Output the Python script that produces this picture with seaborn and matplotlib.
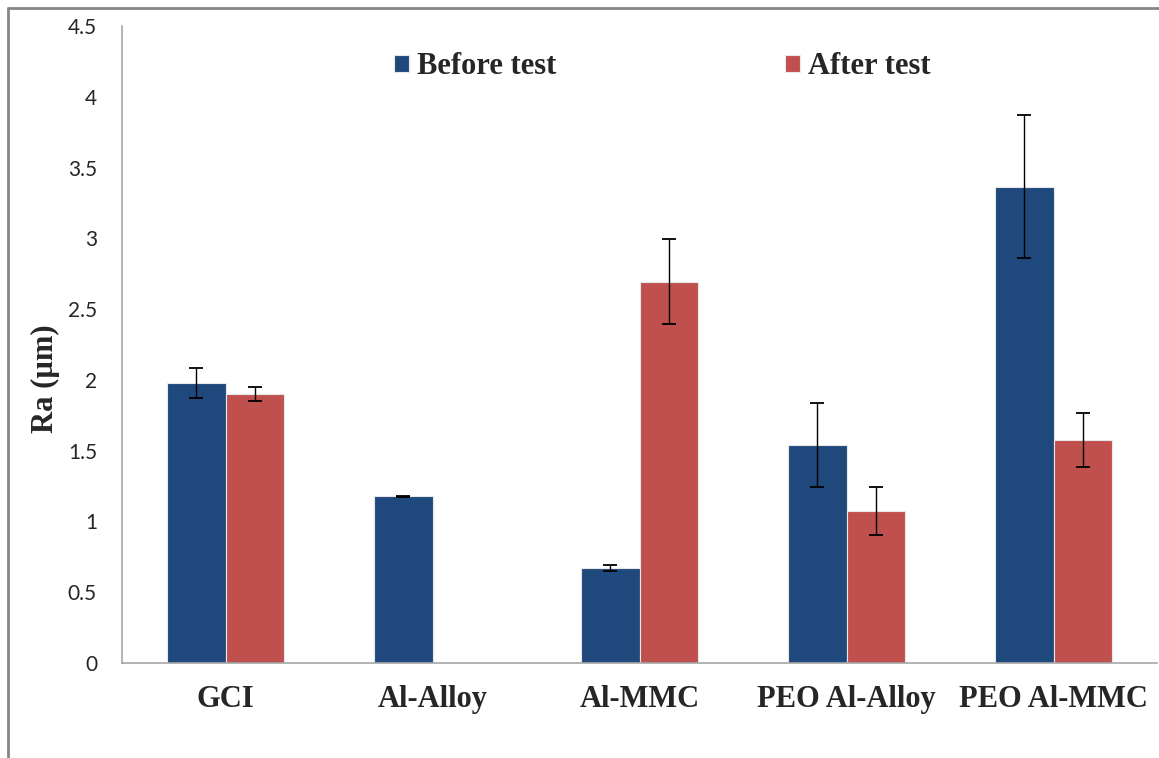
import matplotlib
matplotlib.use("Agg")
import matplotlib.pyplot as plt
import seaborn as sns
import pandas as pd
import numpy as np
from matplotlib.lines import Line2D

categories = ["GCI", "Al-Alloy", "Al-MMC", "PEO Al-Alloy", "PEO Al-MMC"]
series_names = ["Before test", "After test"]
before_vals = [1.98, 1.177, 0.671, 1.54, 3.366]
after_vals = [1.90, 0.0, 2.695, 1.071, 1.575]
before_err = [0.105, 0.005, 0.02, 0.30, 0.506]
after_err = [0.05, np.nan, 0.30, 0.17, 0.19]
yticks = [0, 0.5, 1, 1.5, 2, 2.5, 3, 3.5, 4, 4.5]
ytick_labels = ["0", "0.5", "1", "1.5", "2", "2.5", "3", "3.5", "4", "4.5"]
colors = ["#1F497D", "#C0504D"]

df = pd.DataFrame({
    "Material": categories * 2,
    "Series": [series_names[0]] * len(categories) + [series_names[1]] * len(categories),
    "Ra": before_vals + after_vals,
})
errs = [before_err, after_err]

sns.set_style("white")
W, H = 1159, 758
fig = plt.figure(figsize=(W / 100, H / 100), dpi=100)
ax = fig.add_axes([122 / W, 1 - 663 / H, (1157 - 122) / W, (663 - 26) / H])

sns.barplot(data=df, x="Material", y="Ra", hue="Series", order=categories,
            hue_order=series_names, palette=colors, saturation=1, width=0.568,
            errorbar=None, ax=ax, linewidth=0.8, edgecolor="#e8e8e8")

for cont, e in zip(ax.containers, errs):
    for patch, err in zip(cont.patches, e):
        if np.isnan(err):
            continue
        xc = patch.get_x() + patch.get_width() / 2
        ax.errorbar(xc, patch.get_height(), yerr=err, fmt="none", ecolor="black",
                    elinewidth=1.0, capsize=4.7, capthick=1.3, zorder=5)

ax.set_ylim(0, 4.5)
ax.set_xlim(-0.5, 4.5)
ax.set_yticks(yticks)
ax.set_yticklabels(ytick_labels, fontfamily="Lato", fontsize=15)
ax.tick_params(axis="y", length=0, pad=18)
ax.tick_params(axis="x", length=0, pad=16)
for lab in ax.get_xticklabels():
    lab.set_fontfamily("Liberation Serif")
    lab.set_fontweight("bold")
    lab.set_fontsize(22)
ax.set_xlabel("")
ax.set_ylabel("Ra (µm)", fontfamily="Liberation Serif", fontweight="bold", fontsize=22)
ax.yaxis.set_label_coords(-0.06, 0.446)

for s in ["top", "right"]:
    ax.spines[s].set_visible(False)
for s in ["left", "bottom"]:
    ax.spines[s].set_color("#a6a6a6")
    ax.spines[s].set_linewidth(1.2)

leg = ax.legend(loc="upper center", bbox_to_anchor=(0.522, 1.0), ncol=2, frameon=False,
                prop={"family": "Liberation Serif", "weight": "bold", "size": 22},
                handlelength=0.49, handleheight=0.49, handletextpad=0.26,
                columnspacing=7.5, borderaxespad=0.46)

# outer chart frame (partially visible)
fig.add_artist(Line2D([8 / W, 8 / W], [1 - 8 / H, 0], transform=fig.transFigure,
                      color="#858585", linewidth=2))
fig.add_artist(Line2D([8 / W, 1], [1 - 8 / H, 1 - 8 / H], transform=fig.transFigure,
                      color="#858585", linewidth=2))

fig.savefig("out.png", dpi=100)
